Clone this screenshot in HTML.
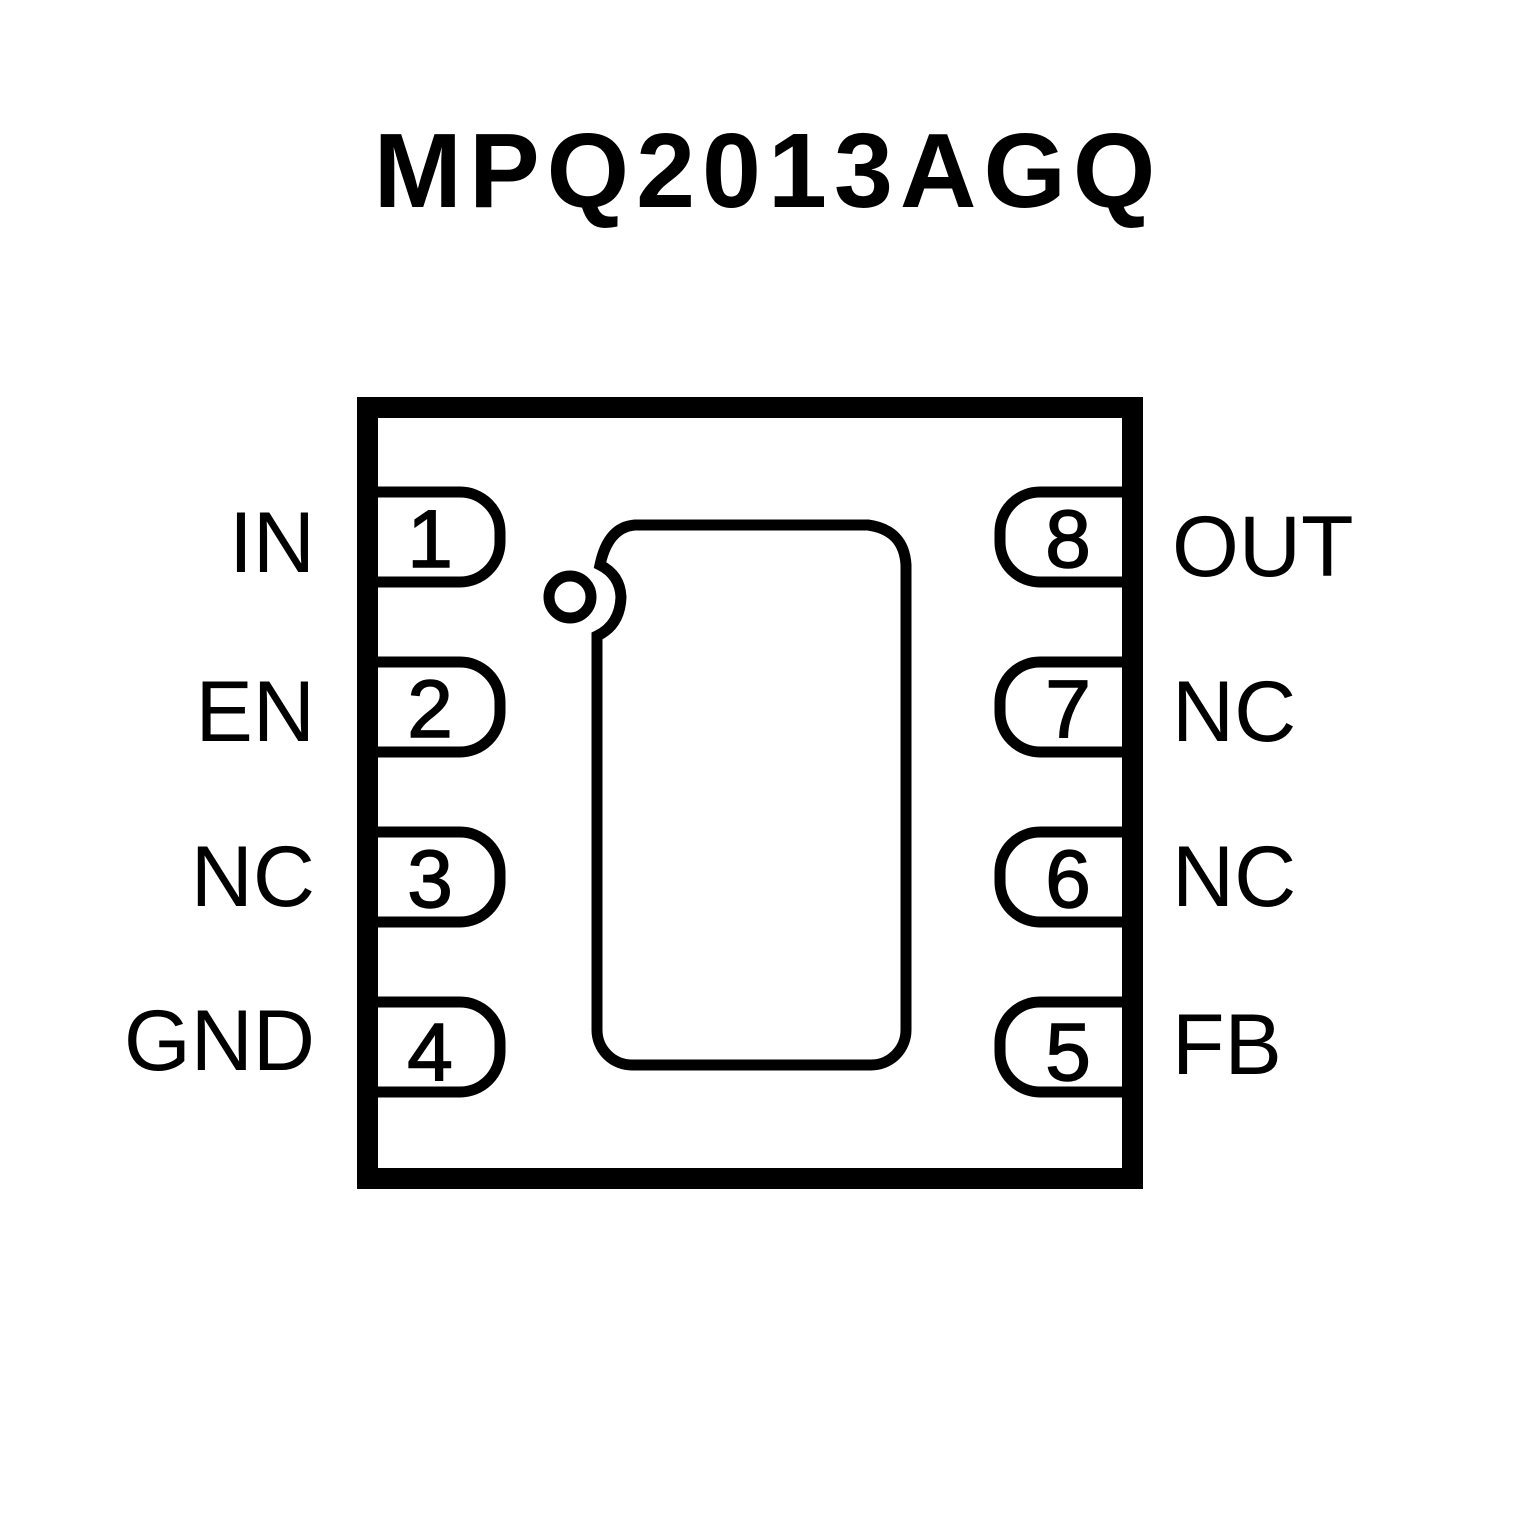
<!DOCTYPE html>
<html><head><style>body{margin:0;background:#fff}</style></head><body>
<svg width="1535" height="1535" viewBox="0 0 1535 1535" xmlns="http://www.w3.org/2000/svg">
<rect width="1535" height="1535" fill="#fff"/>
<text x="768" y="207" text-anchor="middle" font-family="Liberation Sans, sans-serif" font-weight="bold" font-size="106" letter-spacing="7">MPQ2013AGQ</text>
<rect x="367.5" y="407.5" width="765" height="771" fill="none" stroke="#000" stroke-width="21"/>
<g fill="none" stroke="#000" stroke-width="11">
<path d="M378 492 H460 A40 40 0 0 1 500 532 V542 A40 40 0 0 1 460 582 H378"/>
<path d="M378 662 H460 A40 40 0 0 1 500 702 V712 A40 40 0 0 1 460 752 H378"/>
<path d="M378 832 H460 A40 40 0 0 1 500 872 V882 A40 40 0 0 1 460 922 H378"/>
<path d="M378 1002 H460 A40 40 0 0 1 500 1042 V1052 A40 40 0 0 1 460 1092 H378"/>
<path d="M1122 492 H1040 A40 40 0 0 0 1000 532 V542 A40 40 0 0 0 1040 582 H1122"/>
<path d="M1122 662 H1040 A40 40 0 0 0 1000 702 V712 A40 40 0 0 0 1040 752 H1122"/>
<path d="M1122 832 H1040 A40 40 0 0 0 1000 872 V882 A40 40 0 0 0 1040 922 H1122"/>
<path d="M1122 1002 H1040 A40 40 0 0 0 1000 1042 V1052 A40 40 0 0 0 1040 1092 H1122"/>
<circle cx="570" cy="597" r="21"/>
<path d="M597 1030 V636 Q620 625 621 597 Q620 575 600 565 Q608 527 635 525 H868 Q904 530 906 565 V1030 A35 35 0 0 1 871 1065 H632 A35 35 0 0 1 597 1030 Z"/>
</g>
<g font-family="Liberation Sans, sans-serif" font-size="86" text-anchor="end">
<text x="315" y="572">IN</text><text x="315" y="741">EN</text><text x="315" y="906">NC</text><text x="315" y="1070">GND</text>
</g>
<g font-family="Liberation Sans, sans-serif" font-size="86">
<text x="1172" y="576">OUT</text><text x="1172" y="741">NC</text><text x="1172" y="906">NC</text><text x="1172" y="1074">FB</text>
</g>
<g font-family="Liberation Sans, sans-serif" font-size="82" text-anchor="middle" stroke="#000" stroke-width="1.5">
<text x="430" y="567">1</text><text x="430" y="737">2</text><text x="430" y="907">3</text><text x="430" y="1080">4</text>
<text x="1068" y="567">8</text><text x="1068" y="737">7</text><text x="1068" y="907">6</text><text x="1068" y="1080">5</text>
</g>
</svg>
</body></html>
